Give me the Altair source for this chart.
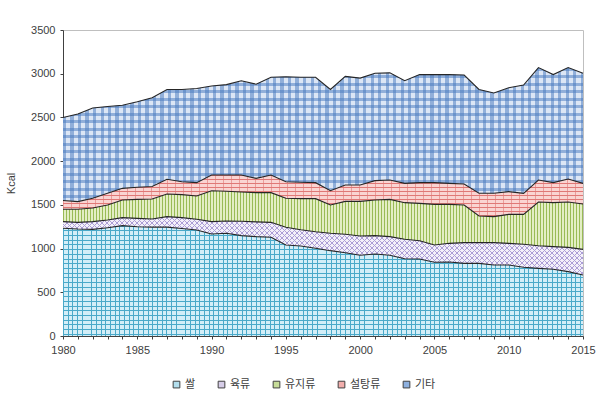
import altair as alt
import pandas as pd

years = list(range(1980, 2016))
categories = ["쌀", "육류", "유지류", "설탕류", "기타"]

rice = [1232, 1224, 1220, 1239, 1262, 1250, 1245, 1245, 1230, 1212, 1167, 1175,
        1148, 1137, 1130, 1040, 1030, 1003, 976, 953, 923, 938, 923, 884,
        880, 843, 846, 831, 831, 812, 812, 786, 774, 763, 736, 698]
meat = [76, 76, 88, 88, 92, 95, 94, 120, 124, 123, 141, 141,
        164, 168, 170, 203, 185, 190, 199, 210, 221, 210, 214, 222,
        210, 198, 214, 237, 237, 256, 248, 263, 259, 259, 278, 293]
oils = [141, 149, 156, 171, 202, 218, 228, 259, 263, 267, 354, 339,
        335, 335, 340, 332, 356, 378, 323, 377, 396, 408, 426, 419,
        427, 465, 446, 430, 304, 297, 331, 342, 500, 503, 519, 519]
sugar = [101, 88, 111, 134, 133, 138, 143, 168, 148, 152, 179, 186,
         194, 163, 201, 190, 187, 183, 164, 187, 187, 221, 221, 221,
         237, 248, 240, 240, 260, 267, 260, 241, 251, 229, 263, 236]
other = [950, 1002, 1033, 993, 951, 979, 1015, 1028, 1055, 1076, 1019, 1034,
         1079, 1077, 1119, 1200, 1202, 1206, 1158, 1243, 1223, 1228, 1226, 1174,
         1236, 1236, 1244, 1247, 1188, 1148, 1189, 1238, 1286, 1236, 1274, 1259]

x_ticks = years
y_ticks = [0, 500, 1000, 1500, 2000, 2500, 3000, 3500]

# background colours of each hatch, and legend swatch colours
bg_colors = ["#d3eef8", "#f3f0f9", "#e3eec4", "#fad4d2", "#dce6f5"]
legend_colors = ["#b2deed", "#d6cde8", "#c6dc98", "#f2aeac", "#8db0df"]

series = [rice, meat, oils, sugar, other]
rows = []
for i, (cat, vals) in enumerate(zip(categories, series)):
    for y, v in zip(years, vals):
        rows.append({"year": y, "category": cat, "value": v, "ord": i})
df = pd.DataFrame(rows)

W, H = 520, 306
YMAX = 3500
PX = H / YMAX


# ---------- hatch helpers (style only) ----------
def stripe_stops(period, width, color):
    stops = []
    k = 0
    clear = "rgba(255,255,255,0)"
    while k * period < 1:
        a = k * period
        b = min(a + width, 1)
        stops += [{"offset": a, "color": clear}, {"offset": a, "color": color},
                  {"offset": b, "color": color}, {"offset": b, "color": clear}]
        k += 1
    return stops


def vertical_hatch(spacing_px, width_px, color):
    return {"gradient": "linear", "x1": 0, "y1": 0, "x2": 1, "y2": 0,
            "stops": stripe_stops(spacing_px / W, width_px / W, color)}


def horizontal_hatch(h_px, spacing_px, width_px, color):
    return {"gradient": "linear", "x1": 0, "y1": 0, "x2": 0, "y2": 1,
            "stops": stripe_stops(spacing_px / h_px, width_px / h_px, color)}


def diagonal_hatch(h_px, spacing_px, width_px, color, up=True):
    r = h_px / W
    k = 1.3
    denom = W * k * (1 + r * r)
    if up:
        g = {"x1": 0, "y1": 0, "x2": k, "y2": k * r}
    else:
        g = {"x1": 0, "y1": 1, "x2": k, "y2": 1 - k * r}
    g.update({"gradient": "linear",
              "stops": stripe_stops(spacing_px / denom, width_px / denom, color)})
    return g


tops, bottoms = [], []
acc = [0] * len(years)
for vals in series:
    bottoms.append(list(acc))
    acc = [a + v for a, v in zip(acc, vals)]
    tops.append(list(acc))
band_h = [(max(t) - min(b)) * PX for t, b in zip(tops, bottoms)]

base = alt.Chart(df).transform_stack(
    stack="value", groupby=["year"], as_=["y0", "y1"],
    sort=[alt.SortField("ord", order="ascending")]
)

xscale = alt.Scale(domain=[1980, 2015], nice=False, zero=False)
yscale = alt.Scale(domain=[0, YMAX], nice=False)

xaxis = alt.Axis(values=x_ticks, title=None, grid=False, format="d",
                 labelExpr="datum.value % 5 == 0 ? datum.label : ''",
                 labelOverlap=False,
                 labelFont="Liberation Sans", labelFontSize=11,
                 labelColor="#404040", tickSize=3, tickColor="#404040",
                 domainColor="#404040", labelPadding=5, labelFlush=False)
yaxis = alt.Axis(values=y_ticks, title="Kcal", grid=False, format="d",
                 labelOverlap=False,
                 labelFont="Liberation Sans", labelFontSize=11,
                 labelColor="#404040", tickSize=3, tickColor="#404040",
                 domainColor="#404040", titleFont="Liberation Sans",
                 titleFontSize=11, titleFontWeight="normal",
                 titleColor="#404040", titlePadding=14, labelPadding=5)


def xenc():
    return alt.X("year:Q", scale=xscale, axis=xaxis)


def yenc():
    return alt.Y("y1:Q", scale=yscale, axis=yaxis)


# legend carrier (invisible geometry)
legend_layer = base.mark_area(opacity=0).encode(
    x=xenc(), y=yenc(), y2="y0:Q",
    fill=alt.Fill("category:N",
                  scale=alt.Scale(domain=categories, range=legend_colors),
                  legend=alt.Legend(title=None, orient="none", direction="horizontal",
                                    legendX=108, legendY=349,
                                    symbolType="square", symbolSize=45,
                                    symbolOpacity=1,
                                    symbolStrokeColor="#404040", symbolStrokeWidth=1,
                                    labelFont="Noto Sans CJK KR", labelFontSize=11,
                                    labelColor="#404040", columnPadding=20,
                                    labelOffset=3)),
)

fill_layer = base.mark_area(opacity=1).encode(
    x=xenc(), y=yenc(), y2="y0:Q",
    color=alt.Color("category:N",
                    scale=alt.Scale(domain=categories, range=bg_colors),
                    legend=None),
)


def hatch(cat_index, grad):
    cat = categories[cat_index]
    return base.transform_filter(alt.datum.category == cat).mark_area(
        fill=grad, strokeWidth=0
    ).encode(x=xenc(), y=yenc(), y2="y0:Q")


hatches = [
    # rice: teal grid
    hatch(0, vertical_hatch(4.7, 1.0, "#4aa9c9")),
    hatch(0, horizontal_hatch(band_h[0], 4.7, 1.0, "#4aa9c9")),
    # meat: purple lattice
    hatch(1, diagonal_hatch(band_h[1], 5.0, 1.1, "#ab9dd6", up=True)),
    hatch(1, diagonal_hatch(band_h[1], 5.0, 1.1, "#ab9dd6", up=False)),
    # oils: green vertical stripes
    hatch(2, vertical_hatch(3.0, 1.3, "#99bb55")),
    # sugar: brick rows
    hatch(3, horizontal_hatch(band_h[3], 4.0, 1.2, "#e07876")),
    hatch(3, vertical_hatch(8.0, 0.9, "rgba(224,120,118,0.6)")),
    # other: blue dots (crossing translucent bands)
    hatch(4, vertical_hatch(7.5, 3.2, "rgba(70,120,190,0.5)")),
    hatch(4, horizontal_hatch(band_h[4], 7.5, 3.2, "rgba(70,120,190,0.5)")),
]

outline = base.mark_line(color="#262626", strokeWidth=1.1).encode(
    x=xenc(), y=yenc(), detail="category:N"
)

chart = alt.layer(legend_layer, fill_layer, *hatches, outline).properties(
    width=W, height=H,
    autosize=alt.AutoSizeParams(type="none"),
    padding={"left": 63, "top": 30, "right": 15, "bottom": 72},
).resolve_scale(color="independent", fill="independent").configure_view(
    stroke="#bfbfbf", strokeWidth=1
)

chart.save("out.html", embed_options={"renderer": "svg", "actions": False})
